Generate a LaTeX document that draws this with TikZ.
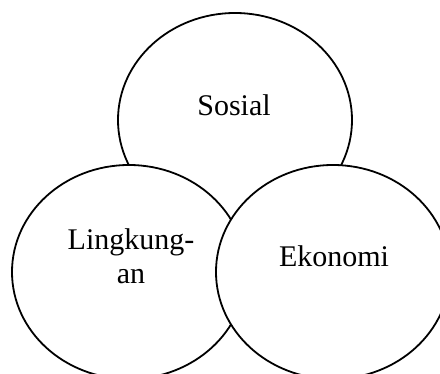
\documentclass[tikz,border=0pt]{standalone}
\usepackage{fontspec}
\setmainfont{Liberation Serif}
\usetikzlibrary{shapes.geometric}
\begin{document}
\begin{tikzpicture}[x=1pt,y=-1pt,
  circ/.style={ellipse,draw=black,fill=white,line width=1.8pt,minimum width=234pt,minimum height=214pt,inner sep=0pt},
  lbl/.style={font=\fontsize{30}{34}\selectfont,align=center,inner sep=0pt}]
\useasboundingbox (0,0) rectangle (440,374);
\clip (0,0) rectangle (440,374);
\node[circ] (sosial) at (235,120) {};
\node[circ] (lingkungan) at (129,272) {};
\node[circ] (ekonomi) at (333,272) {};
\node[lbl,anchor=base] (tsosial) at (234,116) {Sosial};
\node[lbl,anchor=base] (tling) at (131,284) {Lingkung-\\an};
\node[lbl,anchor=base] (tek) at (334,267) {Ekonomi};
\end{tikzpicture}
\end{document}
